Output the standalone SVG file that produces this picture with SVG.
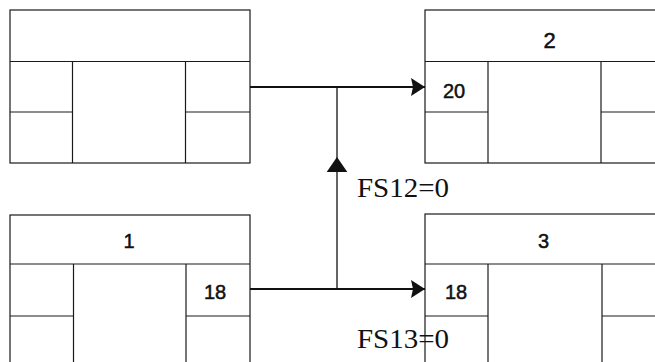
<svg xmlns="http://www.w3.org/2000/svg" width="655" height="362" viewBox="0 0 655 362">
<style>
.box{fill:none;stroke:#1a1a1a;stroke-width:1.2}
.num{font-family:"Liberation Sans",Arial,sans-serif;font-size:20px;fill:#111;stroke:#111;stroke-width:0.5;text-anchor:middle}
.big{font-size:22px}
.lbl{font-family:"Liberation Serif","Times New Roman",serif;font-size:28px;fill:#111}
.con{stroke:#111;fill:none}
</style>
<defs>
<marker id="ah" markerUnits="userSpaceOnUse" markerWidth="16" markerHeight="20" refX="14" refY="9" orient="auto" viewBox="0 0 16 20">
<path d="M0,0 L14,9 L0,18 L2,9 Z" fill="#111"/>
</marker>
<marker id="ahUp" markerUnits="userSpaceOnUse" markerWidth="16" markerHeight="24" refX="16" refY="11" orient="auto" viewBox="0 0 17 24">
<path d="M0,0 L16,11 L0,22 Z" fill="#111"/>
</marker>
</defs>
<rect width="655" height="362" fill="#fff"/>
<g id="node-top-left">
<rect class="box" x="10" y="10" width="240" height="153"/>
<line class="box" x1="10" y1="61.5" x2="250" y2="61.5"/>
<line class="box" x1="72.5" y1="61.5" x2="72.5" y2="163"/>
<line class="box" x1="185.5" y1="61.5" x2="185.5" y2="163"/>
<line class="box" x1="10" y1="112" x2="72.5" y2="112"/>
<line class="box" x1="185.5" y1="112" x2="250" y2="112"/>
</g>
<g id="node-2">
<rect class="box" x="425" y="10" width="245" height="153"/>
<line class="box" x1="425" y1="61.5" x2="670" y2="61.5"/>
<line class="box" x1="488" y1="61.5" x2="488" y2="163"/>
<line class="box" x1="601" y1="61.5" x2="601" y2="163"/>
<line class="box" x1="425" y1="112" x2="488" y2="112"/>
<line class="box" x1="601" y1="112" x2="670" y2="112"/>
<text class="num big" x="549.5" y="48">2</text>
<text class="num" x="454" y="98">20</text>
</g>
<g id="node-1">
<rect class="box" x="10" y="215" width="240" height="160"/>
<line class="box" x1="10" y1="264" x2="250" y2="264"/>
<line class="box" x1="73.5" y1="264" x2="73.5" y2="375"/>
<line class="box" x1="186" y1="264" x2="186" y2="375"/>
<line class="box" x1="10" y1="316" x2="73.5" y2="316"/>
<line class="box" x1="186" y1="316" x2="250" y2="316"/>
<text class="num" x="129" y="248">1</text>
<text class="num" x="215" y="299">18</text>
</g>
<g id="node-3">
<rect class="box" x="425" y="214" width="245" height="160"/>
<line class="box" x1="425" y1="264" x2="670" y2="264"/>
<line class="box" x1="488" y1="264" x2="488" y2="375"/>
<line class="box" x1="602" y1="264" x2="602" y2="375"/>
<line class="box" x1="425" y1="316" x2="488" y2="316"/>
<line class="box" x1="602" y1="316" x2="670" y2="316"/>
<text class="num" x="543.5" y="248">3</text>
<text class="num" x="456" y="299">18</text>
</g>
<g id="connectors">
<line class="con" x1="250" y1="87" x2="425" y2="87" stroke-width="2" marker-end="url(#ah)"/>
<line class="con" x1="250" y1="289" x2="425" y2="289" stroke-width="2" marker-end="url(#ah)"/>
<line class="con" x1="337" y1="289" x2="337" y2="157" stroke-width="1.3" marker-end="url(#ahUp)"/>
<line class="con" x1="337" y1="157" x2="337" y2="87" stroke-width="1.3"/>
<text class="lbl" x="357" y="197" textLength="92" lengthAdjust="spacingAndGlyphs">FS12=0</text>
<text class="lbl" x="357" y="348" textLength="92" lengthAdjust="spacingAndGlyphs">FS13=0</text>
</g>
</svg>
